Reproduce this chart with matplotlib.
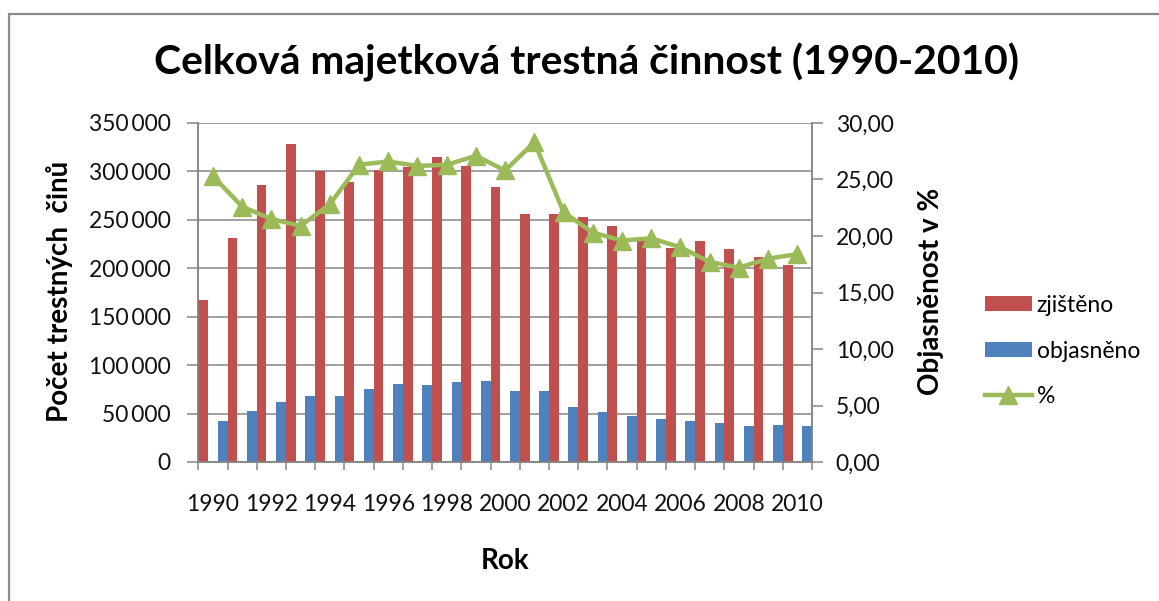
import matplotlib
matplotlib.use("Agg")
import matplotlib.pyplot as plt
from matplotlib.ticker import FixedLocator, FuncFormatter, NullFormatter
from matplotlib.patches import Rectangle
import numpy as np

years = list(range(1990, 2011))
zjisteno = [167000, 231300, 286400, 328000, 300100, 289200, 301900, 304700, 314600, 305700,
            284000, 255700, 255700, 253000, 244000, 228500, 221000, 228500, 219600, 212000, 203000]
objasneno = [42300, 52700, 61600, 68100, 68100, 75700, 80900, 79500, 82200, 83300,
             72900, 72900, 56400, 51200, 47500, 44700, 42300, 39900, 37500, 38500, 37200]
procenta = [25.3, 22.6, 21.5, 20.9, 22.8, 26.3, 26.6, 26.2, 26.3, 27.1,
            25.8, 28.3, 22.1, 20.3, 19.6, 19.8, 19.0, 17.7, 17.2, 18.0, 18.4]
left_ticks = [0, 50000, 100000, 150000, 200000, 250000, 300000, 350000]
right_ticks = [0, 5, 10, 15, 20, 25, 30]

FONT = "Lato"
plt.rcParams["font.family"] = [FONT, "DejaVu Sans"]

RED = "#C0504D"
BLUE = "#4F81BD"
GREEN = "#9BBB59"
GRID = "#868686"

W, H = 1159, 601
fig = plt.figure(figsize=(W / 100, H / 100), dpi=100)
fig.patch.set_facecolor("white")

# outer chart frame (only left and top visible in the reference)
fig.add_artist(Rectangle((9 / W, -0.1), 1.2, 1.1 - 14 / H, transform=fig.transFigure,
                         fill=False, edgecolor="#8a8a8a", lw=1.6))

ax_l, ax_r, ax_t, ax_b = 198.3, 812, 123, 462
ax = fig.add_axes([ax_l / W, 1 - ax_b / H, (ax_r - ax_l) / W, (ax_b - ax_t) / H])
ax2 = ax.twinx()

idx = np.arange(len(years))
bw = 1 / 3
ax.bar(idx + bw / 2, zjisteno, width=bw, color=RED, label="zjištěno", zorder=3)
ax.bar(idx + 1 - bw / 2, objasneno, width=bw, color=BLUE, label="objasněno", zorder=3)
ln, = ax2.plot(idx + 0.5, procenta, color=GREEN, lw=3.2, marker="^", markersize=13,
               markeredgecolor=GREEN, markerfacecolor=GREEN, label="%", zorder=4)

ax.set_xlim(0, len(years))
ax.set_ylim(0, 350000)
ax2.set_ylim(0, 30)

# left axis
ax.yaxis.set_major_locator(FixedLocator(left_ticks))
ax.yaxis.set_major_formatter(FuncFormatter(lambda v, p: f"{int(v):,}".replace(",", "\u2009")))
ax.grid(axis="y", color=GRID, lw=1.1, zorder=0)
ax.set_axisbelow(True)

# right axis
ax2.yaxis.set_major_locator(FixedLocator(right_ticks))
ax2.yaxis.set_major_formatter(FuncFormatter(lambda v, p: f"{v:.2f}".replace(".", ",")))

# x axis: tick marks at category boundaries, labels at centres of every other year
ax.xaxis.set_major_locator(FixedLocator(list(range(len(years) + 1))))
ax.xaxis.set_major_formatter(NullFormatter())
ax.xaxis.set_minor_locator(FixedLocator([i + 0.5 for i in range(0, len(years), 2)]))
ax.xaxis.set_minor_formatter(FuncFormatter(lambda v, p: str(years[int(v)])))

for a in (ax, ax2):
    for s in a.spines.values():
        s.set_color(GRID)
        s.set_linewidth(1.1)
    a.spines["top"].set_visible(False)

ts = 16.5
ax.tick_params(axis="y", which="major", length=8, width=1.1, color=GRID, labelsize=ts,
               pad=12, labelcolor="#111111")
ax2.tick_params(axis="y", which="major", length=8, width=1.1, color=GRID, labelsize=ts,
                pad=9, labelcolor="#111111")
ax.tick_params(axis="x", which="major", length=6, width=1.1, color=GRID)
ax.tick_params(axis="x", which="minor", length=0, labelsize=ts, pad=23, labelcolor="#111111")

# titles / labels
fig.text(586.5 / W, 1 - 62 / H, "Celková majetková trestná činnost (1990-2010)",
         ha="center", va="center", fontsize=29.4, fontweight="bold")
fig.text(60 / W, 1 - 291.5 / H, "Počet trestných  činů", rotation=90, ha="center",
         va="center", fontsize=20, fontweight="bold")
fig.text(931 / W, 1 - 291.5 / H, "Objasněnost v %", rotation=90, ha="center",
         va="center", fontsize=20, fontweight="bold")
fig.text(505 / W, 1 - 561 / H, "Rok", ha="center", va="center", fontsize=20,
         fontweight="bold")

h1, l1 = ax.get_legend_handles_labels()
leg = fig.legend(h1 + [ln], l1 + ["%"], loc="center left",
                 bbox_to_anchor=(985 / W, 1 - 351 / H), frameon=False, fontsize=ts,
                 handlelength=2.05, handleheight=0.62, handletextpad=0.2,
                 labelspacing=1.07, borderaxespad=0, borderpad=0)

fig.savefig("out.png", dpi=100, facecolor="white")
